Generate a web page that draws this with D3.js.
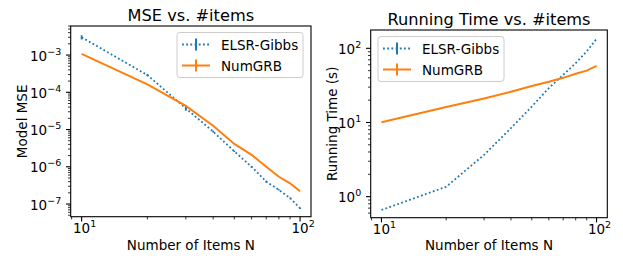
<!DOCTYPE html>
<html>
<head>
<meta charset="utf-8">
<script src="https://cdn.jsdelivr.net/npm/d3@7"></script>
<style>
  body { margin: 0; background: #fff; }
  text { font-family: "DejaVu Sans", sans-serif; fill: #000; }
</style>
</head>
<body>
<svg width="623" height="259"></svg>
<script>
// number of items N
var itemsN = [10, 20, 30, 40, 50, 60, 70, 80, 90, 100];

// model MSE
var mseElsr    = [3.0e-3, 2.9e-4, 3.7e-5, 8.8e-6, 2.6e-6, 1.0e-6, 4.0e-7, 2.4e-7, 1.45e-7, 7.7e-8];
var mseElsrErr = [4e-4, 2e-5, 5e-6, 5e-7, 1e-7, 5e-8, 2e-8, 1e-8, 5e-9, 3e-9];
var mseNumgrb  = [1.07e-3, 1.64e-4, 4.3e-5, 1.26e-5, 4.1e-6, 2.1e-6, 1.0e-6, 5.4e-7, 3.6e-7, 2.2e-7];

// running time (s)
var timeElsr   = [0.66, 1.36, 3.66, 8.4, 16.4, 29, 44, 63, 91, 134];
var timeNumgrb = [10.1, 16.2, 21, 26, 31, 35.5, 40, 45.5, 50, 58];

var xTicks    = [10, 100];
var mseTicks  = [1e-7, 1e-6, 1e-5, 1e-4, 1e-3];
var timeTicks = [1, 10, 100];

var seriesNames = ["ELSR-Gibbs", "NumGRB"];
var blue = "#1f77b4", orange = "#ff7f0e";

var svg = d3.select("svg");

// superscript label, e.g. 10^-3
function powLabel(sel, v) {
  var e = Math.round(Math.log10(v));
  sel.append("tspan").text("10");
  sel.append("tspan").attr("dy", -6).attr("font-size", 9.5).text(String(e).replace("-", "\u2212"));
}

function minorTicks(domain) {
  var out = [];
  var lo = Math.floor(Math.log10(domain[0])), hi = Math.ceil(Math.log10(domain[1]));
  for (var k = lo; k <= hi; k++) {
    for (var m = 2; m <= 9; m++) {
      var v = m * Math.pow(10, k);
      if (v >= domain[0] && v <= domain[1]) out.push(v);
    }
  }
  return out;
}

function panel(o) {
  var x = d3.scaleLog().domain([Math.pow(10, 0.95), Math.pow(10, 2.05)]).range([o.left, o.right]);
  var y = d3.scaleLog().domain(o.yDomain).range([o.bottom, o.top]);
  var g = svg.append("g");

  // series
  var line = d3.line().x(function(d) { return x(d[0]); }).y(function(d) { return y(d[1]); });
  var clip = "clip" + o.id;
  g.append("clipPath").attr("id", clip).append("rect")
    .attr("x", o.left).attr("y", o.top).attr("width", o.right - o.left).attr("height", o.bottom - o.top);
  var plot = g.append("g").attr("clip-path", "url(#" + clip + ")");

  plot.append("path")
    .attr("d", line(d3.zip(itemsN, o.a)))
    .attr("fill", "none").attr("stroke", blue).attr("stroke-width", 1.8)
    .attr("stroke-dasharray", "1.8,2.4");
  if (o.aErr) {
    plot.selectAll(".eb").data(d3.range(itemsN.length)).enter().append("line")
      .attr("x1", function(i) { return x(itemsN[i]); })
      .attr("x2", function(i) { return x(itemsN[i]); })
      .attr("y1", function(i) { return y(o.a[i] - o.aErr[i]); })
      .attr("y2", function(i) { return y(o.a[i] + o.aErr[i]); })
      .attr("stroke", blue).attr("stroke-width", 1.8);
  }
  plot.append("path")
    .attr("d", line(d3.zip(itemsN, o.b)))
    .attr("fill", "none").attr("stroke", orange).attr("stroke-width", 2);

  // frame
  g.append("rect")
    .attr("x", o.left).attr("y", o.top).attr("width", o.right - o.left).attr("height", o.bottom - o.top)
    .attr("fill", "none").attr("stroke", "#000").attr("stroke-width", 1.1);

  // x ticks
  g.selectAll(".xmin").data(minorTicks(x.domain())).enter().append("line")
    .attr("x1", x).attr("x2", x).attr("y1", o.bottom).attr("y2", o.bottom + 2.7)
    .attr("stroke", "#000").attr("stroke-width", 0.8);
  var xt = g.selectAll(".xmaj").data(xTicks).enter().append("g");
  xt.append("line")
    .attr("x1", x).attr("x2", x).attr("y1", o.bottom).attr("y2", o.bottom + 4.7)
    .attr("stroke", "#000").attr("stroke-width", 1.1);
  xt.append("text")
    .attr("x", function(d) { return x(d) + 3; }).attr("y", o.bottom + 16.5)
    .attr("text-anchor", "middle").attr("font-size", 13.5)
    .each(function(d) { powLabel(d3.select(this), d); });

  // y ticks
  g.selectAll(".ymin").data(minorTicks(y.domain())).enter().append("line")
    .attr("y1", y).attr("y2", y).attr("x1", o.left).attr("x2", o.left - 2.7)
    .attr("stroke", "#000").attr("stroke-width", 0.8);
  var yt = g.selectAll(".ymaj").data(o.yTicks).enter().append("g");
  yt.append("line")
    .attr("y1", y).attr("y2", y).attr("x1", o.left).attr("x2", o.left - 4.7)
    .attr("stroke", "#000").attr("stroke-width", 1.1);
  yt.append("text")
    .attr("x", o.left - 9.5).attr("y", function(d) { return y(d) + 5.5; })
    .attr("text-anchor", "end").attr("font-size", 13.5)
    .each(function(d) { powLabel(d3.select(this), d); });

  // labels
  g.append("text")
    .attr("x", (o.left + o.right) / 2).attr("y", o.top - 5.5)
    .attr("text-anchor", "middle").attr("font-size", 16.2).text(o.title);
  g.append("text")
    .attr("x", (o.left + o.right) / 2).attr("y", 250)
    .attr("text-anchor", "middle").attr("font-size", 13.5).text("Number of Items N");
  g.append("text")
    .attr("transform", "translate(" + o.yLabelX + "," + (o.top + o.bottom) / 2 + ") rotate(-90)")
    .attr("text-anchor", "middle").attr("font-size", 13.5).text(o.yLabel);

  // legend
  var lg = g.append("g").attr("transform", "translate(" + o.legX + "," + o.legY + ")");
  lg.append("rect")
    .attr("width", 126).attr("height", 45).attr("rx", 3)
    .attr("fill", "#fff").attr("fill-opacity", 0.8).attr("stroke", "#cccccc");
  [blue, orange].forEach(function(c, i) {
    var cy = 12 + i * 21;
    lg.append("line").attr("x1", 5).attr("x2", 33).attr("y1", cy).attr("y2", cy)
      .attr("stroke", c).attr("stroke-width", i === 0 ? 1.8 : 2)
      .attr("stroke-dasharray", i === 0 ? "1.8,2.4" : null);
    lg.append("line").attr("x1", 19).attr("x2", 19).attr("y1", cy - 6).attr("y2", cy + 6)
      .attr("stroke", c).attr("stroke-width", 2);
    lg.append("text").attr("x", 44).attr("y", cy + 5).attr("font-size", 13.5).text(seriesNames[i]);
  });
}

panel({
  id: 1, left: 70.7, right: 311, top: 26, bottom: 216.7,
  yDomain: [Math.pow(10, -7.34), Math.pow(10, -2.22)], yTicks: mseTicks,
  a: mseElsr, aErr: mseElsrErr, b: mseNumgrb,
  title: "MSE vs. #items", yLabel: "Model MSE", yLabelX: 26.5,
  legX: 177, legY: 32.5
});

panel({
  id: 2, left: 370.7, right: 607.3, top: 30, bottom: 217.7,
  yDomain: [Math.pow(10, -0.284), Math.pow(10, 2.247)], yTicks: timeTicks,
  a: timeElsr, aErr: null, b: timeNumgrb,
  title: "Running Time vs. #items", yLabel: "Running Time (s)", yLabelX: 336.5,
  legX: 378, legY: 36.5
});
</script>
</body>
</html>
